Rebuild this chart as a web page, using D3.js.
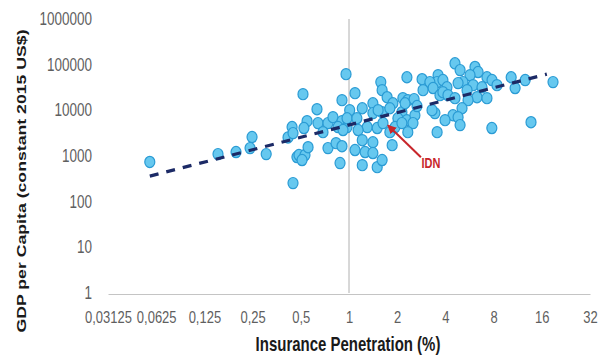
<!DOCTYPE html>
<html>
<head>
<meta charset="utf-8">
<script src="https://cdn.jsdelivr.net/npm/d3@7"></script>
<style>
  body { margin: 0; background: #fff; }
  svg { display: block; font-family: "Liberation Sans", Arial, sans-serif; }
</style>
</head>
<body>
<svg id="chart"></svg>
<script>
// insurance penetration (%) per country
const insurancePct = [
  0.057, 0.152, 0.197, 0.248, 0.241, 0.304, 0.416, 0.441, 0.447, 0.473, 0.447,
  0.516, 0.631, 0.904, 0.958, 0.547, 0.523, 0.640, 0.739, 0.794, 0.904, 0.688,
  0.854, 0.972, 0.487, 0.531, 0.555, 0.739, 0.83, 0.904, 0.879, 0.509,
  1.01, 1.58, 1.61, 2.30, 1.09, 1.41, 1.73, 1.88, 2.17, 1.21, 0.972, 1.12,
  1.41, 1.61, 1.80, 2.14, 2.02, 2.30, 1.30, 1.50, 1.14, 0.918, 1.80, 1.63,
  1.94, 1.21, 1.41, 1.86, 1.26, 1.09, 1.41, 1.21, 1.50, 1.61,
  4.59, 4.94, 6.12, 6.40, 5.70, 7.27, 7.82, 5.15, 4.80, 2.86, 3.60, 3.55,
  3.20, 3.86, 4.09, 3.35, 3.7, 2.90, 3.86, 4.15, 5.96, 6.77, 5.46, 6.30,
  7.27, 5.54, 4.59, 5.08, 4.46, 4.80, 3.98, 4.94, 3.55, 3.44, 3.30, 2.33,
  2.24, 2.58, 2.51, 2.14, 2.33, 7.8, 2.55, 2.66, 1.52,
  10.3, 10.9, 12.6, 18.8, 8.40, 13.7
];
// GDP per capita (constant 2015 US$), same order
const gdpPerCapita = [
  740, 1100, 1220, 2600, 1490, 1100, 2550, 4300, 3170, 950, 255,
  22600, 10600, 16700, 62000, 5800, 4100, 5250, 5250, 7100, 5800, 3330,
  4300, 4300, 1050, 1050, 1560, 1490, 1910, 1640, 700, 815,
  10100, 41500, 27700, 53000, 23800, 14300, 19400, 14300, 18500, 11100, 6700, 6700,
  8700, 9100, 11100, 9100, 6700, 6100, 4300, 4100, 3700, 3700, 3330, 5250,
  4300, 2220, 2000, 1730, 1220, 1350, 1160, 630, 570, 815,
  107000, 76000, 89000, 69000, 59000, 53000, 46000, 41500, 39500, 48000, 59000, 41500,
  41500, 46000, 32000, 30800, 21500, 27700, 25000, 21500, 35600, 32000, 27700, 19400,
  18500, 16700, 18500, 11100, 7800, 7100, 6100, 4750, 3330, 8700, 10100, 16700,
  14300, 7800, 5250, 5250, 3330, 4100, 17600, 12400, 10100,
  53000, 30800, 46000, 41500, 35600, 5500
];

const xTicks = [0.03125, 0.0625, 0.125, 0.25, 0.5, 1, 2, 4, 8, 16, 32];
const yTicks = [1, 10, 100, 1000, 10000, 100000, 1000000];

// fitted trend (end points)
const trendX = [0.057, 17.2];
const trendY = [363, 62000];

// annotated country
const idnX = 1.75, idnY = 4700, idnLabel = 'IDN';

const width = 600, height = 356;
const stretch = 1.3; // the source picture's text is drawn tall and narrow
const points = insurancePct.map((v, i) => ({ x: v, y: gdpPerCapita[i] }));

const svg = d3.select('#chart')
  .attr('width', width)
  .attr('height', height);

const x = d3.scaleLog().base(2).domain([1 / 32, 32]).range([108, 590]);
const y = d3.scaleLog().domain([1, 1e6]).range([293, 19]);

// vertical reference line at 1%
svg.append('line')
  .attr('x1', x(1)).attr('x2', x(1))
  .attr('y1', y(1e6)).attr('y2', y(1))
  .attr('stroke', '#b0b0b0')
  .attr('stroke-width', 1);

// X axis
const xAxis = svg.append('g')
  .attr('transform', `translate(0,${y(1) + 1})`)
  .call(d3.axisBottom(x).tickValues(xTicks).tickSize(0).tickPadding(13)
    .tickFormat(d => String(d).replace('.', ',')));
xAxis.select('.domain').attr('stroke', '#c4c4c4');
xAxis.selectAll('text')
  .style('font-size', '13px')
  .attr('fill', '#5f5f5f')
  .attr('transform', `scale(1,${stretch})`);

// Y axis
const yAxis = svg.append('g')
  .attr('transform', 'translate(100,0)')
  .call(d3.axisLeft(y).tickValues(yTicks).tickSize(0).tickPadding(8)
    .tickFormat(d3.format('d')));
yAxis.select('.domain').remove();
yAxis.selectAll('text')
  .style('font-size', '13.5px')
  .attr('fill', '#5f5f5f')
  .attr('transform', `scale(1,${stretch})`);

// scatter points
svg.append('g')
  .selectAll('ellipse')
  .data(points)
  .enter()
  .append('ellipse')
  .attr('cx', d => x(d.x))
  .attr('cy', d => y(d.y))
  .attr('rx', 5)
  .attr('ry', 5.6)
  .attr('fill', '#66c8ef')
  .attr('stroke', '#2a9bd4')
  .attr('stroke-width', 1.2);

// dashed trend line
svg.append('path')
  .datum(trendX.map((v, i) => [v, trendY[i]]))
  .attr('d', d3.line().x(d => x(d[0])).y(d => y(d[1])))
  .attr('fill', 'none')
  .attr('stroke', '#1c2a66')
  .attr('stroke-width', 3.2)
  .attr('stroke-dasharray', '9,8');

// IDN annotation
const ax = x(idnX), ay = y(idnY);
svg.append('defs').append('marker')
  .attr('id', 'arrow')
  .attr('viewBox', '0 0 10 10')
  .attr('refX', 9).attr('refY', 5)
  .attr('markerWidth', 4.5).attr('markerHeight', 4.5)
  .attr('orient', 'auto')
  .append('path')
  .attr('d', 'M0,0L10,5L0,10z')
  .attr('fill', '#c8262b');

svg.append('line')
  .attr('x1', ax + 33).attr('y1', ay + 32)
  .attr('x2', ax).attr('y2', ay)
  .attr('stroke', '#c8262b')
  .attr('stroke-width', 2)
  .attr('marker-end', 'url(#arrow)');

svg.append('text')
  .attr('transform', `translate(${ax + 43},${ay + 43}) scale(1,${stretch})`)
  .attr('text-anchor', 'middle')
  .style('font-size', '11px')
  .style('font-weight', '700')
  .attr('fill', '#c8262b')
  .text(idnLabel);

// axis titles
svg.append('text')
  .attr('transform', `translate(348,351) scale(1,${stretch})`)
  .attr('text-anchor', 'middle')
  .style('font-size', '15px')
  .style('font-weight', '700')
  .attr('fill', '#1a1a1a')
  .text('Insurance Penetration (%)');

svg.append('text')
  .attr('transform', `translate(26,181) rotate(-90) scale(${stretch},1)`)
  .attr('text-anchor', 'middle')
  .style('font-size', '13.6px')
  .style('font-weight', '700')
  .attr('fill', '#1a1a1a')
  .text('GDP per Capita (constant 2015 US$)');
</script>
</body>
</html>
